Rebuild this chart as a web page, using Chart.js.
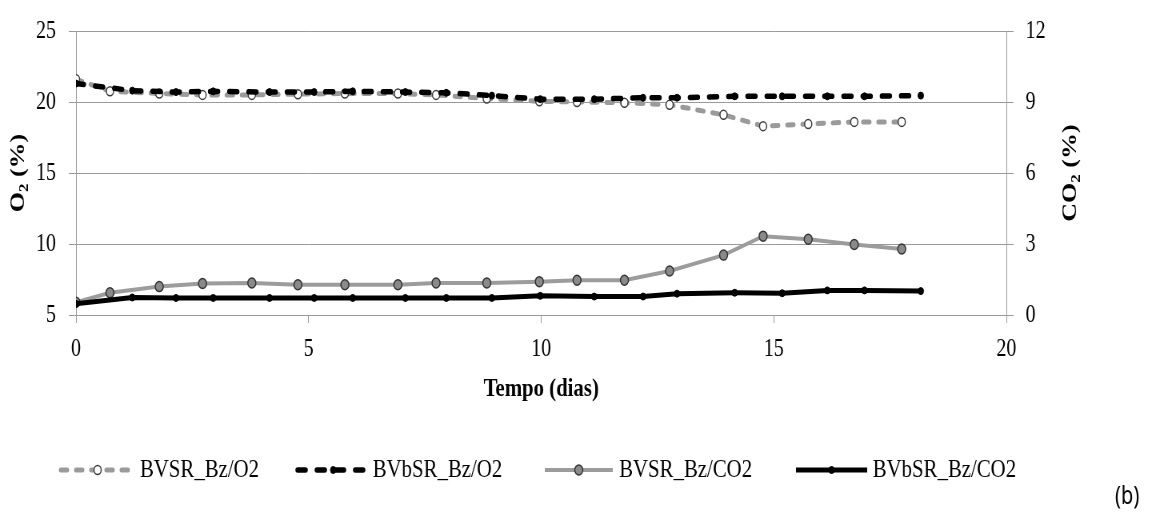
<!DOCTYPE html>
<html>
<head>
<meta charset="utf-8">
<script src="https://cdn.jsdelivr.net/npm/chart.js@4/dist/chart.umd.min.js"></script>
<style>
  html, body { margin: 0; padding: 0; background: #fff; overflow: hidden; }
  #wrap { position: relative; width: 1150px; height: 526px; overflow: hidden; background: #fff; }
  /* figure is drawn wide and narrowed horizontally (condensed look of the original) */
  #grafico { position: absolute; left: 0; top: 0; transform: scaleX(0.8); transform-origin: 0 0; }
</style>
</head>
<body>
<div id="wrap"><canvas id="grafico" width="1438" height="526"></canvas></div>
<script>
// sampling times (days) for each reactor
const diasBVSR = [0, 0.73, 1.79, 2.72, 3.78, 4.77, 5.78, 6.92, 7.74, 8.83, 9.96, 10.77, 11.79, 12.76, 13.92, 14.77, 15.74, 16.73, 17.75];
const diasBVbSR = [0, 1.21, 2.15, 2.95, 4.16, 5.12, 5.95, 7.08, 7.96, 8.94, 9.98, 11.14, 12.19, 12.92, 14.16, 15.18, 16.15, 16.95, 18.16];

// O2 (%) - left axis
const o2BVSR = [21.6, 20.75, 20.6, 20.5, 20.5, 20.55, 20.6, 20.6, 20.5, 20.25, 20.05, 20.0, 19.95, 19.8, 19.1, 18.3, 18.45, 18.6, 18.6];
const o2BVbSR = [21.3, 20.8, 20.7, 20.75, 20.7, 20.7, 20.75, 20.7, 20.65, 20.45, 20.2, 20.2, 20.3, 20.3, 20.4, 20.4, 20.4, 20.4, 20.45];

// CO2 (%) - right axis
const co2BVSR = [0.54, 0.94, 1.2, 1.33, 1.35, 1.28, 1.28, 1.28, 1.35, 1.35, 1.41, 1.47, 1.47, 1.86, 2.53, 3.33, 3.2, 2.98, 2.79];
const co2BVbSR = [0.47, 0.74, 0.72, 0.72, 0.72, 0.72, 0.72, 0.72, 0.72, 0.72, 0.81, 0.78, 0.78, 0.9, 0.94, 0.92, 1.04, 1.04, 1.01];

const nomesSeries = ['BVSR_Bz/O2', 'BVbSR_Bz/O2', 'BVSR_Bz/CO2', 'BVbSR_Bz/CO2'];
const ticksDias = [0, 5, 10, 15, 20];
const ticksO2 = [5, 10, 15, 20, 25];
const ticksCO2 = [0, 3, 6, 9, 12];

const SERIF = "'Liberation Serif', 'Times New Roman', serif";
const GRID = '#9a9a9a';

function pontos(xs, ys) {
  return xs.map((x, i) => ({ x: x, y: ys[i] }));
}

// legend slots: [line start, line end, text x]
const legendaSlots = [[76, 168, 175], [372, 461, 466], [681, 766, 774], [995, 1084, 1091]];
const LEGENDA_Y = 470;

function tituloVertical(ctx, base, resto, x, y) {
  const grande = `bold 26px ${SERIF}`;
  const pequena = `bold 17px ${SERIF}`;
  ctx.save();
  ctx.translate(x, y);
  ctx.rotate(-Math.PI / 2);
  ctx.font = grande;
  const w1 = ctx.measureText(base).width;
  const w3 = ctx.measureText(resto).width;
  ctx.font = pequena;
  const w2 = ctx.measureText('2').width;
  let cx = -(w1 + w2 + w3) / 2;
  const by = 9;
  ctx.textAlign = 'left';
  ctx.textBaseline = 'alphabetic';
  ctx.fillStyle = '#000';
  ctx.font = grande;
  ctx.fillText(base, cx, by);
  cx += w1;
  ctx.font = pequena;
  ctx.fillText('2', cx, by + 5);
  cx += w2;
  ctx.font = grande;
  ctx.fillText(resto, cx, by);
  ctx.restore();
}

const extras = {
  id: 'extras',
  afterDraw(chart) {
    const ctx = chart.ctx;
    const area = chart.chartArea;
    ctx.save();
    ctx.fillStyle = '#000';

    // x axis title
    ctx.font = `bold 26px ${SERIF}`;
    ctx.textAlign = 'center';
    ctx.textBaseline = 'middle';
    ctx.fillText('Tempo (dias)', (area.left + area.right) / 2, 389);

    // y axis titles, both reading bottom to top
    const meio = (area.top + area.bottom) / 2;
    tituloVertical(ctx, 'O', ' (%)', 21, meio);
    tituloVertical(ctx, 'CO', ' (%)', 1336, meio);

    // legend
    chart.data.datasets.forEach((ds, i) => {
      const [x0, x1, xt] = legendaSlots[i];
      ctx.save();
      ctx.strokeStyle = ds.borderColor;
      ctx.lineWidth = ds.borderWidth;
      ctx.lineCap = ds.borderCapStyle || 'butt';
      ctx.setLineDash(ds.borderDash || []);
      ctx.beginPath();
      ctx.moveTo(x0, LEGENDA_Y);
      ctx.lineTo(x1, LEGENDA_Y);
      ctx.stroke();
      ctx.setLineDash([]);
      ctx.beginPath();
      ctx.arc((x0 + x1) / 2, LEGENDA_Y, ds.pointRadius, 0, Math.PI * 2);
      ctx.fillStyle = ds.pointBackgroundColor;
      ctx.fill();
      ctx.lineWidth = ds.pointBorderWidth;
      ctx.strokeStyle = ds.pointBorderColor;
      ctx.stroke();
      ctx.restore();

      ctx.font = `26px ${SERIF}`;
      ctx.textAlign = 'left';
      ctx.textBaseline = 'middle';
      ctx.fillStyle = '#000';
      ctx.fillText(ds.label, xt, LEGENDA_Y);
    });

    // panel tag
    ctx.font = "25px 'Noto Sans', sans-serif";
    ctx.textAlign = 'center';
    ctx.textBaseline = 'middle';
    ctx.fillText('(b)', 1409, 497);
    ctx.restore();
  }
};

const canvas = document.getElementById('grafico');

new Chart(canvas.getContext('2d'), {
  type: 'line',
  data: {
    datasets: [
      {
        label: nomesSeries[0],
        data: pontos(diasBVSR, o2BVSR),
        yAxisID: 'y',
        borderColor: '#9a9a9a',
        borderWidth: 5,
        borderDash: [8, 11],
        borderCapStyle: 'round',
        pointRadius: 4.5,
        pointBackgroundColor: '#ffffff',
        pointBorderColor: '#3c3c3c',
        pointBorderWidth: 1.5,
        order: 1
      },
      {
        label: nomesSeries[1],
        data: pontos(diasBVbSR, o2BVbSR),
        yAxisID: 'y',
        borderColor: '#000000',
        borderWidth: 5.5,
        borderDash: [10, 14],
        borderCapStyle: 'round',
        pointRadius: 3.5,
        pointBackgroundColor: '#000000',
        pointBorderColor: '#000000',
        pointBorderWidth: 1,
        order: 0
      },
      {
        label: nomesSeries[2],
        data: pontos(diasBVSR, co2BVSR),
        yAxisID: 'y2',
        borderColor: '#9c9c9c',
        borderWidth: 4,
        pointRadius: 5,
        pointBackgroundColor: '#8a8a8a',
        pointBorderColor: '#333333',
        pointBorderWidth: 1.5,
        order: 3
      },
      {
        label: nomesSeries[3],
        data: pontos(diasBVbSR, co2BVbSR),
        yAxisID: 'y2',
        borderColor: '#000000',
        borderWidth: 5,
        pointRadius: 3.5,
        pointBackgroundColor: '#000000',
        pointBorderColor: '#000000',
        pointBorderWidth: 1,
        order: 2
      }
    ]
  },
  options: {
    responsive: false,
    animation: false,
    devicePixelRatio: 1,
    layout: { padding: { left: 0, right: 0, top: 18, bottom: 0 } },
    elements: { line: { tension: 0 } },
    plugins: {
      legend: { display: false },
      tooltip: { enabled: false }
    },
    scales: {
      x: {
        type: 'linear',
        min: ticksDias[0],
        max: ticksDias[ticksDias.length - 1],
        afterFit: (s) => { s.height = 211; },
        ticks: {
          stepSize: ticksDias[1] - ticksDias[0],
          color: '#000',
          font: { family: SERIF, size: 25 },
          padding: 11,
          maxRotation: 0
        },
        grid: { drawOnChartArea: false, drawTicks: true, tickLength: 8, color: GRID },
        border: { color: GRID, width: 1 }
      },
      y: {
        position: 'left',
        min: ticksO2[0],
        max: ticksO2[ticksO2.length - 1],
        afterFit: (s) => { s.width = 95; },
        ticks: {
          stepSize: ticksO2[1] - ticksO2[0],
          color: '#000',
          font: { family: SERIF, size: 25 },
          padding: 16
        },
        grid: { color: GRID, tickLength: 9 },
        border: { color: GRID, width: 1 }
      },
      y2: {
        position: 'right',
        min: ticksCO2[0],
        max: ticksCO2[ticksCO2.length - 1],
        afterFit: (s) => { s.width = 180; },
        ticks: {
          stepSize: ticksCO2[1] - ticksCO2[0],
          color: '#000',
          font: { family: SERIF, size: 25 },
          padding: 15
        },
        grid: { drawOnChartArea: false, tickLength: 9, color: GRID },
        border: { color: GRID, width: 1 }
      }
    }
  },
  plugins: [extras]
});
</script>
</body>
</html>
